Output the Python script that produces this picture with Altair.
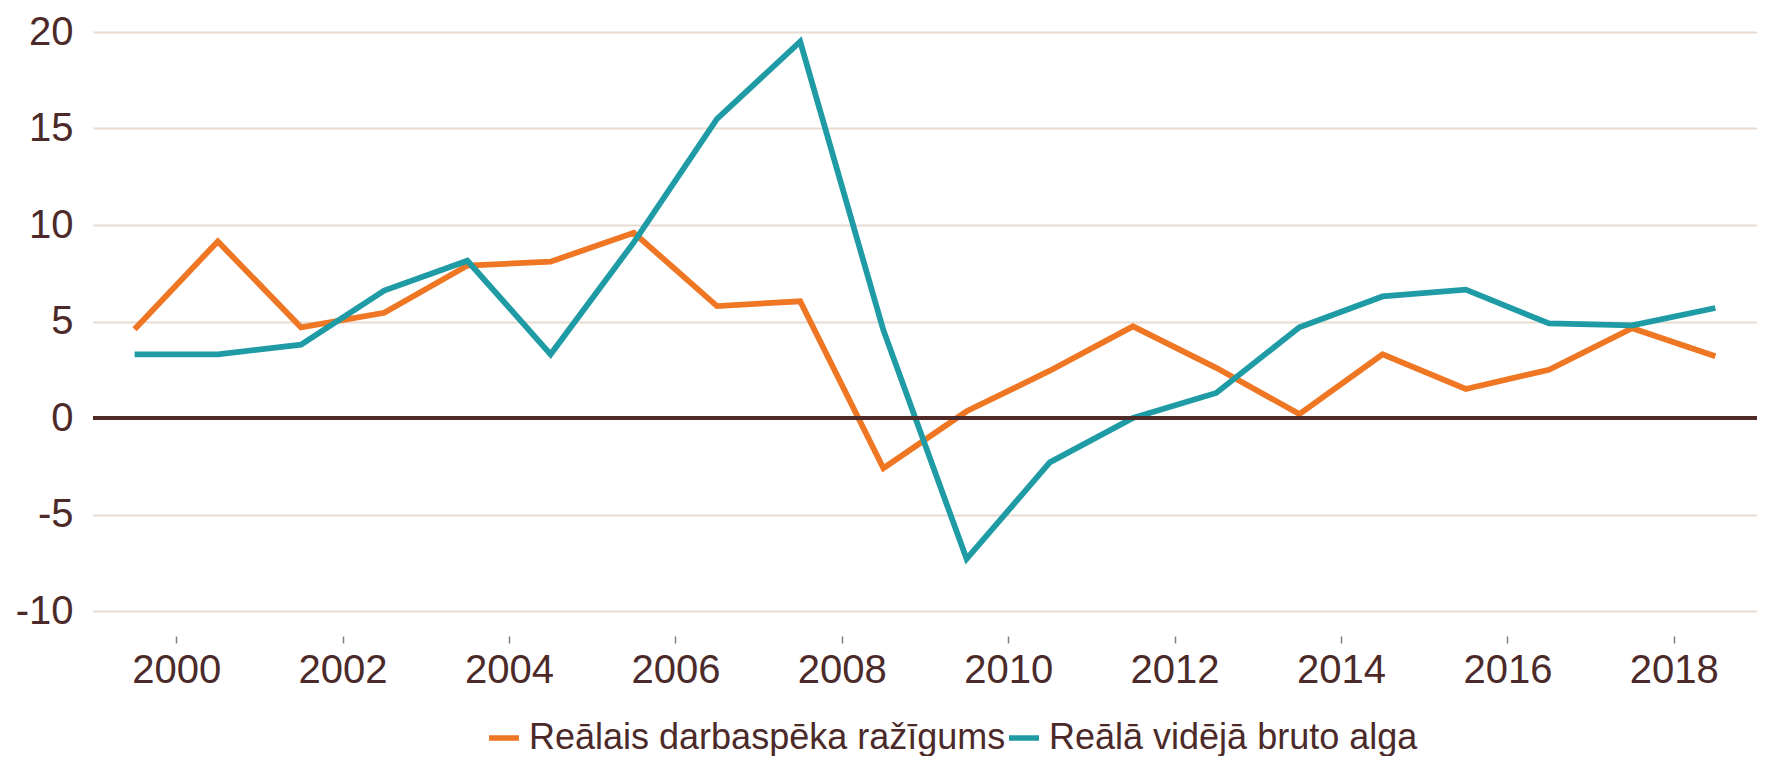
import altair as alt
import pandas as pd

years = list(range(1999, 2019))
productivity = [4.6, 9.15, 4.7, 5.45, 7.9, 8.1, 9.6, 5.8, 6.05, -2.6,
                0.35, 2.45, 4.75, 2.6, 0.2, 3.3, 1.5, 2.5, 4.65, 3.2]
wages = [3.3, 3.3, 3.8, 6.6, 8.15, 3.3, 9.1, 15.5, 19.5, 4.55,
         -7.3, -2.3, 0.0, 1.3, 4.7, 6.3, 6.65, 4.9, 4.8, 5.7]
series_names = ["Reālais darbaspēka ražīgums", "Reālā vidējā bruto alga"]
series_colors = ["#EF7622", "#1F9BA6"]
x_ticks = list(range(2000, 2019, 2))
y_ticks = [-10, -5, 0, 5, 10, 15, 20]

rows = []
for i, yr in enumerate(years):
    rows.append({"t": yr + 0.5, "v": productivity[i], "s": series_names[0]})
    rows.append({"t": yr + 0.5, "v": wages[i], "s": series_names[1]})
df = pd.DataFrame(rows)

TXT = "#4B2A29"
FONT = "Liberation Sans"

x = alt.X("t:Q", scale=alt.Scale(domain=[1999, 2019], nice=False, zero=False),
          axis=alt.Axis(values=x_ticks, format="d", title=None, grid=False, domain=False,
                        tickSize=7, tickColor="#8C7B7B", tickWidth=1.5, offset=25,
                        labelFontSize=40, labelColor=TXT, labelFont=FONT, labelPadding=7))
y = alt.Y("v:Q", scale=alt.Scale(domain=[-10, 20], nice=False),
          axis=alt.Axis(values=y_ticks, title=None, domain=False, ticks=False,
                        grid=True, gridColor="#E8DCD2", gridWidth=2,
                        labelExpr="'' + datum.value",
                        labelFontSize=40, labelColor=TXT, labelFont=FONT, labelPadding=20))

zero = alt.Chart(pd.DataFrame({"z": [0]})).mark_rule(color="#4E2A29", strokeWidth=4).encode(
    y=alt.Y("z:Q", scale=alt.Scale(domain=[-10, 20], nice=False))
)

lines = alt.Chart(df).mark_line(strokeWidth=5.8, strokeJoin="miter").encode(
    x=x, y=y,
    color=alt.Color("s:N", scale=alt.Scale(domain=series_names, range=series_colors),
                    legend=alt.Legend(title=None, orient="none", legendX=393, legendY=688,
                                      direction="horizontal", symbolType="stroke",
                                      symbolStrokeWidth=5.5, symbolSize=900,
                                      labelFontSize=36, labelColor=TXT, labelFont=FONT,
                                      labelOffset=7, columnPadding=-29, labelLimit=600)),
    detail="s:N",
)

chart = alt.layer(lines, zero).properties(
    width=1664, height=579,
    autosize=alt.AutoSizeParams(type="none"),
    padding={"left": 85, "top": 24, "right": 0, "bottom": 145},
).configure_view(stroke=None)

chart.save("out.html", embed_options={"renderer": "svg", "actions": False})
